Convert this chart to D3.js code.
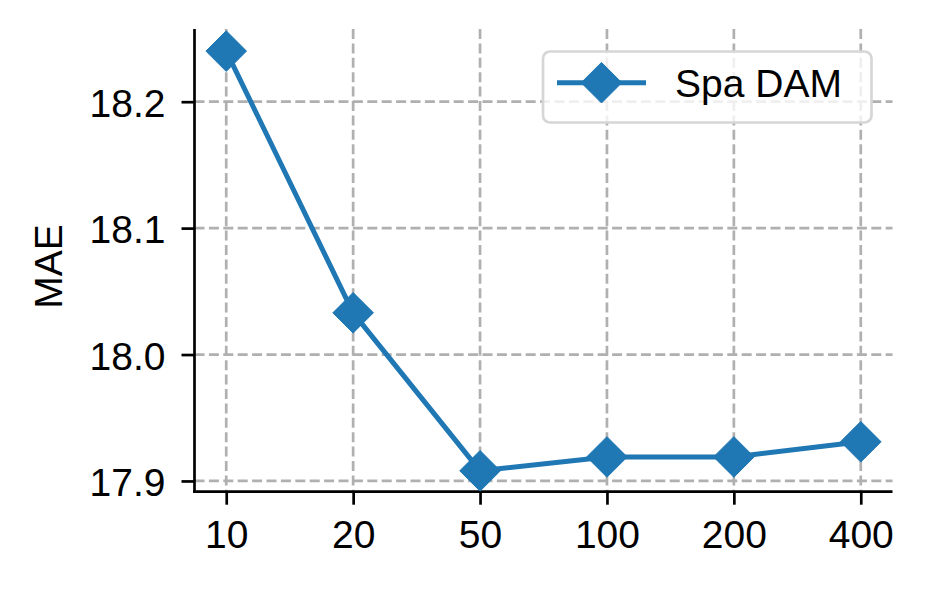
<!DOCTYPE html>
<html>
<head>
<meta charset="utf-8">
<script src="https://cdn.jsdelivr.net/npm/d3@7"></script>
<style>
  html, body { margin: 0; padding: 0; background: #ffffff; }
  svg { display: block; }
  text { font-family: "Liberation Sans", Arial, sans-serif; }
</style>
</head>
<body>
<svg id="chart" width="925" height="589"></svg>
<script>
// ---- data ----
const categories = ["10", "20", "50", "100", "200", "400"];
const maeValues = [18.240, 18.033, 17.908, 17.919, 17.919, 17.931];
const yTicks = [17.9, 18.0, 18.1, 18.2];
const seriesName = "Spa DAM";
const yLabel = "MAE";

// ---- layout ----
const plotLeft = 194.5, plotRight = 892.5, plotTop = 29, plotBottom = 491.7;
const color = "#1f77b4";
const fontSize = 39;

const svg = d3.select("#chart");

const x = d3.scalePoint().domain(categories).range([plotLeft, plotRight]).padding(0.25);
const y = d3.scaleLinear().domain([17.8915, 18.2575]).range([plotBottom, plotTop]);

// grid
const grid = svg.append("g");
grid.selectAll("line.v").data(categories).enter().append("line")
  .attr("x1", d => x(d)).attr("x2", d => x(d))
  .attr("y1", plotTop).attr("y2", plotBottom)
  .attr("stroke", "#b0b0b0").attr("stroke-width", 2.7)
  .attr("stroke-dasharray", "10,4.4");
grid.selectAll("line.h").data(yTicks).enter().append("line")
  .attr("x1", plotLeft).attr("x2", plotRight)
  .attr("y1", d => y(d)).attr("y2", d => y(d))
  .attr("stroke", "#b0b0b0").attr("stroke-width", 2.7)
  .attr("stroke-dasharray", "10,4.4");

// axes
const xAxis = svg.append("g").attr("transform", `translate(0,${plotBottom})`)
  .call(d3.axisBottom(x).tickSizeOuter(0).tickSizeInner(13).tickPadding(16));
const yAxis = svg.append("g").attr("transform", `translate(${plotLeft},0)`)
  .call(d3.axisLeft(y).tickValues(yTicks).tickFormat(d3.format(".1f")).tickSizeOuter(0).tickSizeInner(13).tickPadding(16));

[xAxis, yAxis].forEach(g => {
  g.select(".domain").attr("stroke", "#000").attr("stroke-width", 2.7);
  g.selectAll(".tick line").attr("stroke", "#000").attr("stroke-width", 2.7);
  g.selectAll(".tick text").attr("fill", "#000").attr("font-size", fontSize)
    .attr("font-family", "Liberation Sans, Arial, sans-serif");
});
yAxis.selectAll(".tick text").attr("dy", "0.38em");
xAxis.selectAll(".tick text").attr("dy", "0.71em");
xAxis.select(".domain").attr("d", `M${plotLeft - 1.35},0H${plotRight}`);
yAxis.select(".domain").attr("d", `M0,${plotTop}V${plotBottom + 1.35}`);

// y label
svg.append("text")
  .attr("transform", `translate(61.5,266.5) rotate(-90)`)
  .attr("text-anchor", "middle")
  .attr("font-size", fontSize)
  .attr("fill", "#000")
  .text(yLabel);

// line
const pts = categories.map((c, i) => [x(c), y(maeValues[i])]);
svg.append("path")
  .attr("d", d3.line()(pts))
  .attr("fill", "none").attr("stroke", color).attr("stroke-width", 5)
  .attr("stroke-linejoin", "round");

const r = 20.3;
const diamond = `M0,${-r}L${r},0L0,${r}L${-r},0Z`;
svg.append("g").selectAll("path").data(pts).enter().append("path")
  .attr("d", diamond)
  .attr("transform", d => `translate(${d[0]},${d[1]})`)
  .attr("fill", color).attr("stroke", color).attr("stroke-width", 1);

// legend
const lg = svg.append("g");
lg.append("rect")
  .attr("x", 543).attr("y", 51.5).attr("width", 328.5).attr("height", 71)
  .attr("rx", 7).attr("ry", 7)
  .attr("fill", "#ffffff").attr("fill-opacity", 0.8)
  .attr("stroke", "#d6d6d6").attr("stroke-width", 2.7);
lg.append("line")
  .attr("x1", 557).attr("x2", 646).attr("y1", 82.7).attr("y2", 82.7)
  .attr("stroke", color).attr("stroke-width", 5);
lg.append("path")
  .attr("d", diamond).attr("transform", "translate(601.5,82.7)")
  .attr("fill", color).attr("stroke", color).attr("stroke-width", 1);
lg.append("text")
  .attr("x", 675).attr("y", 96.7)
  .attr("font-size", fontSize).attr("fill", "#000")
  .text(seriesName);
</script>
</body>
</html>
